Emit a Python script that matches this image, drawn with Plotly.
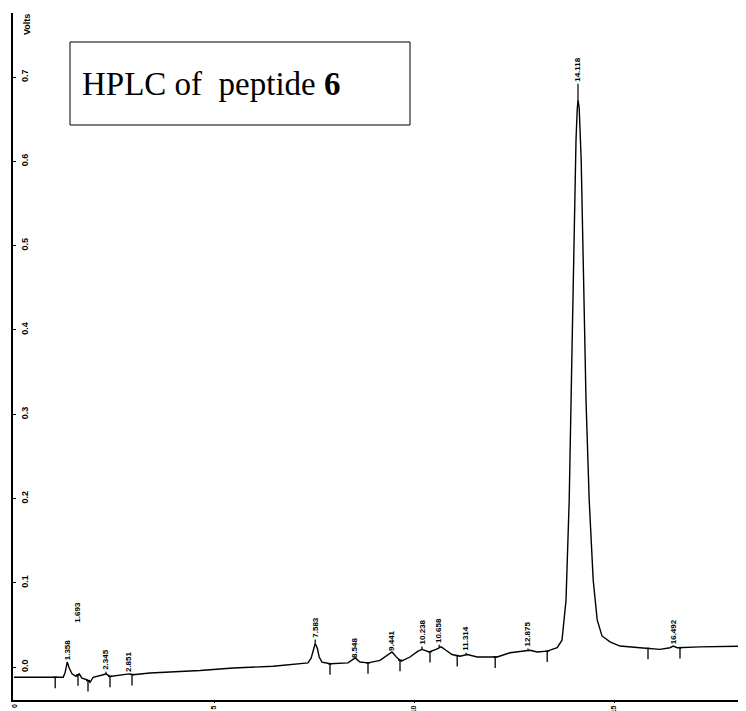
import numpy as np
import plotly.graph_objects as go

# chromatogram trace (minutes, volts)
time_min = [0, 1.03, 1.23, 1.28, 1.33, 1.38, 1.45, 1.55, 1.63, 1.7, 1.83, 1.9, 1.98,
            2.23, 2.3, 2.4, 2.83, 2.88, 2.98, 3.4, 4.65, 5.48, 6.48, 7.15, 7.35, 7.43,
            7.48, 7.53, 7.58, 7.63, 7.7, 7.9, 8.35, 8.53, 8.65, 8.85, 9.15, 9.35, 9.45,
            9.58, 9.68, 9.9, 10.1, 10.2, 10.38, 10.55, 10.68, 10.8, 10.95, 11.15, 11.33,
            11.58, 12.08, 12.4, 12.73, 12.9, 13.08, 13.33, 13.58, 13.7, 13.8, 13.88,
            13.95, 14.0, 14.05, 14.08, 14.1, 14.13, 14.18, 14.23, 14.3, 14.38, 14.48,
            14.58, 14.7, 14.9, 15.15, 15.65, 16.15, 16.4, 16.48, 16.58, 17.15, 18.3]
volts = [-0.012, -0.012, -0.012, -0.006, 0.006, -0.001, -0.008, -0.011, -0.008, -0.013,
         -0.015, -0.018, -0.012, -0.009, -0.008, -0.011, -0.009, -0.008, -0.009, -0.007,
         -0.004, -0.001, 0.001, 0.004, 0.005, 0.011, 0.021, 0.028, 0.023, 0.012, 0.006,
         0.004, 0.005, 0.011, 0.006, 0.005, 0.008, 0.014, 0.018, 0.011, 0.007, 0.012,
         0.019, 0.021, 0.018, 0.021, 0.024, 0.020, 0.015, 0.013, 0.015, 0.012, 0.012,
         0.017, 0.019, 0.020, 0.018, 0.019, 0.023, 0.032, 0.079, 0.198, 0.376, 0.518,
         0.625, 0.661, 0.673, 0.663, 0.601, 0.483, 0.317, 0.198, 0.103, 0.056, 0.037,
         0.030, 0.025, 0.023, 0.021, 0.023, 0.025, 0.023, 0.024, 0.025]

# peak annotations
peak_times = [1.33, 1.58, 2.3, 2.88, 7.53, 8.53, 9.45, 10.2, 10.63, 11.3, 12.85, 14.1, 16.48]
peak_labels = ["1.358", "1.693", "2.345", "2.851", "7.583", "8.548", "9.441", "10.238",
               "10.658", "11.314", "12.875", "14.118", "16.492"]
label_offsets_px = [-12, -63, -14, -12, -16, -10, -11, -17, -17, -16, -16, -30, -14]

# integration event markers
event_times = [1.03, 1.6, 1.85, 2.4, 2.95, 7.9, 8.85, 9.65, 10.4, 11.08, 12.03, 13.33,
               15.85, 16.65]

y_tick_vals = [0.0, 0.1, 0.2, 0.3, 0.4, 0.5, 0.6, 0.7]
y_tick_text = ["0.0", "0.1", "0.2", "0.3", "0.4", "0.5", "0.6", "0.7"]
x_tick_vals = [0, 5, 10, 15]
x_tick_text = ["0", "5", "10", "15"]

fig = go.Figure()
fig.add_trace(go.Scatter(x=time_min, y=volts, mode="lines",
                         line=dict(color="black", width=1.4), hoverinfo="skip",
                         showlegend=False))

ev_x, ev_y = [], []
for t in event_times:
    v = float(np.interp(t, time_min, volts))
    ev_x += [t, t, None, t - 0.05, t + 0.05, None]
    ev_y += [v, v - 0.013, None, v, v, None]
fig.add_trace(go.Scatter(x=ev_x, y=ev_y, mode="lines",
                         line=dict(color="black", width=1.3), hoverinfo="skip",
                         showlegend=False))

for t, lab, off in zip(peak_times, peak_labels, label_offsets_px):
    v = float(np.interp(t, time_min, volts))
    fig.add_annotation(x=t, y=v, text="<b>" + lab + "</b>", textangle=-90,
                       showarrow=(lab != "1.693"), arrowhead=0, arrowwidth=1.2,
                       arrowcolor="black", ax=0, ay=off,
                       yshift=0 if lab != "1.693" else -off,
                       font=dict(family="Arial", size=8, color="black"))

# page body has an 8px margin; geometry below is in screen pixels
OFF = 8
FW, FH = 746, 711
L, T, R, B = 13, 13, 746, 700          # plot area edges on screen
W, H = R - L, B - T
def px(x):
    return (x - L) / W
def py(y):
    return 1 - (y - T) / H

fig.add_annotation(xref="paper", yref="paper", x=px(27), y=py(25), text="<b>Volts</b>",
                   textangle=-90, showarrow=False, xanchor="center", yanchor="middle",
                   font=dict(family="Arial", size=9, color="black"))

# the first x tick label (plotly hides it next to the inside y labels)
fig.add_annotation(x=x_tick_vals[0], xref="x", yref="paper", y=0, yanchor="top",
                   xanchor="center", yshift=-2, text="<b>" + x_tick_text[0] + "</b>",
                   textangle=-90, showarrow=False,
                   font=dict(family="Arial", size=7, color="black"))

fig.add_shape(type="rect", xref="paper", yref="paper", x0=px(70), x1=px(410),
              y0=py(125), y1=py(42), line=dict(color="black", width=1),
              fillcolor="white")
fig.add_annotation(xref="paper", yref="paper", x=px(80), y=py(84), xanchor="left",
                   yanchor="middle", showarrow=False,
                   text="HPLC of&nbsp; peptide <b>6</b>",
                   font=dict(family="Liberation Serif", size=33, color="black"))

fig.update_layout(
    width=FW, height=FH,
    margin=dict(l=L - OFF, r=FW - (R - OFF), t=T - OFF,
                b=FH - (B - OFF), autoexpand=False),
    paper_bgcolor="white", plot_bgcolor="white",
    showlegend=False,
    xaxis=dict(range=[-0.025, 18.3], tickvals=x_tick_vals, ticktext=x_tick_text,
               ticks="outside", ticklen=1, tickcolor="black", tickangle=-90,
               automargin=False, ticklabeloverflow="allow",
               showline=True, linecolor="black", linewidth=1.5, showgrid=False,
               zeroline=False, tickfont=dict(family="Arial", size=7, color="black",
                                             weight="bold")),
    yaxis=dict(range=[-0.039, 0.776], tickvals=y_tick_vals, ticktext=y_tick_text,
               ticks="inside", ticklen=3, tickcolor="black", tickangle=-90,
               automargin=False,
               ticklabelposition="inside", showline=True, linecolor="black",
               linewidth=1.5, showgrid=False, zeroline=False,
               tickfont=dict(family="Arial", size=9, color="black", weight="bold")),
)

fig.write_html("out.html")
